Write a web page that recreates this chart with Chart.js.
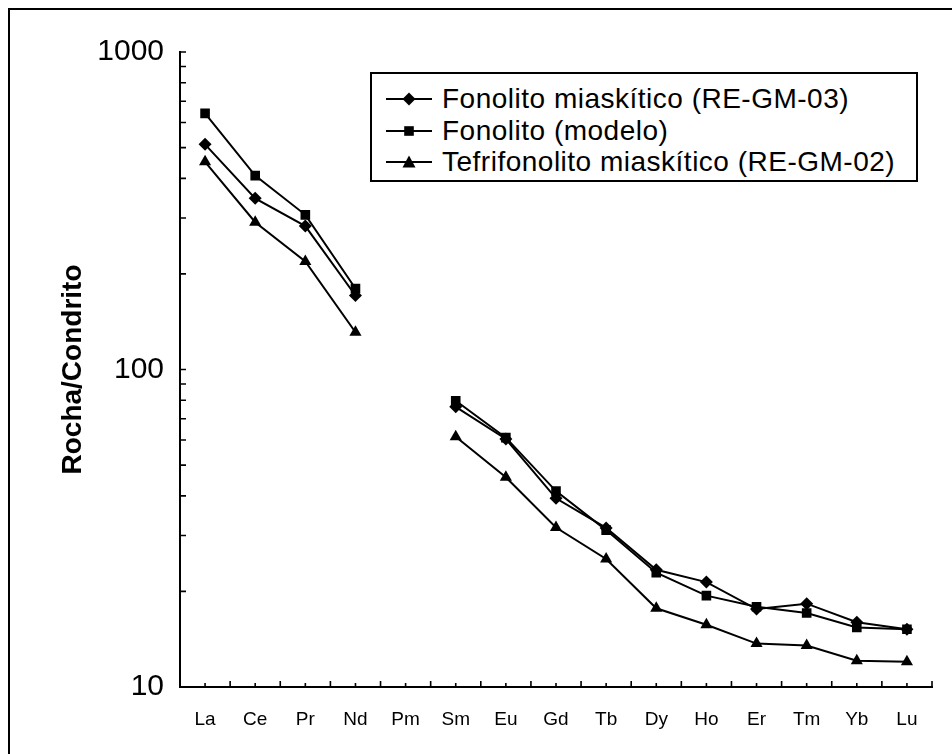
<!DOCTYPE html>
<html>
<head>
<meta charset="utf-8">
<script src="https://cdn.jsdelivr.net/npm/chart.js@4.4.1/dist/chart.umd.min.js"></script>
<style>
  html, body { margin: 0; padding: 0; background: #fff; overflow: hidden; }
  #wrap { position: relative; width: 952px; height: 754px; }
  #frame { position: absolute; left: 8px; top: 8px; width: 1000px; height: 1000px; border: 2px solid #000; box-sizing: border-box; pointer-events: none; }
  #legend { position: absolute; left: 370px; top: 72px; width: 548px; height: 110px; border: 2px solid #000; box-sizing: border-box; background: #fff;
            font-family: "Liberation Sans", Arial, sans-serif; font-size: 28px; letter-spacing: 0.5px; color: #000; }
  #legend .row { position: absolute; left: 12px; height: 30px; display: flex; align-items: center; white-space: nowrap; }
  #legend svg { margin-right: 8px; }
</style>
</head>
<body>
<div id="wrap">
  <canvas id="reeChart" width="952" height="754"></canvas>
  <div id="frame"></div>
  <div id="legend"></div>
</div>
<script>
// elementos terras raras (eixo x)
const elementos = ['La', 'Ce', 'Pr', 'Nd', 'Pm', 'Sm', 'Eu', 'Gd', 'Tb', 'Dy', 'Ho', 'Er', 'Tm', 'Yb', 'Lu'];

// valores normalizados ao condrito (Pm sem dado)
const fonolitoMiaskitico = [512, 346, 283, 171, null, 76.3, 60.4, 39.3, 31.7, 23.4, 21.4, 17.6, 18.3, 16.0, 15.2];
const fonolitoModelo     = [641, 408, 307, 180, null, 79.7, 61.0, 41.4, 31.2, 22.9, 19.4, 17.9, 17.1, 15.4, 15.2];
const tefrifonolito      = [451, 291, 219, 131, null, 61.4, 45.8, 31.8, 25.3, 17.7, 15.7, 13.7, 13.5, 12.1, 12.0];

const nomesSeries = ['Fonolito miaskítico (RE-GM-03)', 'Fonolito (modelo)', 'Tefrifonolito miaskítico (RE-GM-02)'];
const marcadores = ['rectRot', 'rect', 'triangle'];
const raios = [6.5, 6.8, 7];

const yTicks = [10, 100, 1000];
const yTicksMenores = [20, 30, 40, 50, 60, 70, 80, 90, 200, 300, 400, 500, 600, 700, 800, 900];

const FONTE = '"Liberation Sans", Arial, sans-serif';

// marcas de escala para dentro (estilo Excel)
const ticksInternos = {
  id: 'ticksInternos',
  afterDraw(chart) {
    const ctx = chart.ctx;
    const xs = chart.scales.x, ys = chart.scales.y;
    const base = ys.getPixelForValue(10);
    const esq = xs.left;
    const meio = (xs.getPixelForValue(1) - xs.getPixelForValue(0)) / 2;
    ctx.save();
    ctx.strokeStyle = '#000';
    ctx.lineWidth = 1.6;
    ctx.beginPath();
    elementos.forEach((_, i) => {
      const c = xs.getPixelForValue(i);
      ctx.moveTo(c, base); ctx.lineTo(c, base - 4);
      ctx.moveTo(c - meio, base); ctx.lineTo(c - meio, base - 6);
      if (i === elementos.length - 1) { ctx.moveTo(c + meio, base); ctx.lineTo(c + meio, base - 6); }
    });
    yTicks.concat(yTicksMenores).forEach(v => {
      const p = ys.getPixelForValue(v);
      ctx.moveTo(esq, p); ctx.lineTo(esq + 6, p);
    });
    ctx.stroke();
    ctx.restore();
  }
};

const series = [fonolitoMiaskitico, fonolitoModelo, tefrifonolito];

const chart = new Chart(document.getElementById('reeChart'), {
  type: 'line',
  data: {
    labels: elementos,
    datasets: series.map((d, i) => ({
      label: nomesSeries[i],
      data: d,
      borderColor: '#000',
      backgroundColor: '#000',
      borderWidth: 2,
      pointStyle: marcadores[i],
      pointRadius: raios[i],
      pointBorderWidth: 0,
      pointBackgroundColor: '#000',
      spanGaps: false,
      tension: 0
    }))
  },
  options: {
    responsive: false,
    devicePixelRatio: 1,
    animation: false,
    layout: { padding: { left: 0, top: 52, right: 20, bottom: 0 } },
    plugins: { legend: { display: false }, tooltip: { enabled: false } },
    scales: {
      x: {
        type: 'category',
        offset: true,
        grid: { display: false, drawTicks: false },
        border: { display: true, color: '#000', width: 2 },
        ticks: { color: '#000', font: { family: FONTE, size: 19 }, padding: 21, autoSkip: false, maxRotation: 0 },
        afterFit(s) { s.height = 67; }
      },
      y: {
        type: 'logarithmic',
        min: 10,
        max: 1000,
        afterBuildTicks(s) { s.ticks = yTicks.map(v => ({ value: v })); },
        grid: { display: false, drawTicks: false },
        border: { display: true, color: '#000', width: 2 },
        ticks: { color: '#000', font: { family: FONTE, size: 30 }, padding: 16, callback: v => String(v) },
        title: { display: true, text: 'Rocha/Condrito', color: '#000', font: { family: FONTE, size: 28, weight: 'bold' }, padding: { top: 56, bottom: 0 } },
        afterFit(s) { s.width = 180; }
      }
    }
  },
  plugins: [ticksInternos]
});

// legenda com linha + marcador
const leg = document.getElementById('legend');
const formas = [
  '<polygon points="25,3.5 31.5,10 25,16.5 18.5,10" fill="#000"/>',
  '<rect x="20.2" y="5.2" width="9.6" height="9.6" fill="#000"/>',
  '<polygon points="25,3.5 31.5,15.5 18.5,15.5" fill="#000"/>'
];
nomesSeries.forEach((nome, i) => {
  const row = document.createElement('div');
  row.className = 'row';
  row.style.top = (10 + i * 31.5) + 'px';
  row.innerHTML = '<svg width="50" height="20"><line x1="2" y1="10" x2="48" y2="10" stroke="#000" stroke-width="2"/>' + formas[i] + '</svg><span>' + nome + '</span>';
  leg.appendChild(row);
});
</script>
</body>
</html>
